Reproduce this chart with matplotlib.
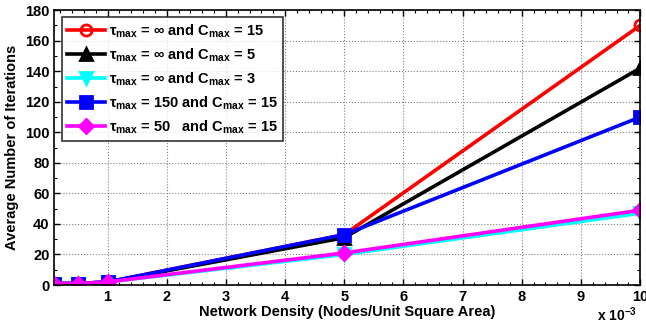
import matplotlib
matplotlib.use("Agg")
import matplotlib.pyplot as plt
from matplotlib.ticker import MultipleLocator, AutoMinorLocator

plt.rcParams['font.family'] = ['Liberation Sans', 'DejaVu Sans']
plt.rcParams['font.weight'] = 'bold'
plt.rcParams['mathtext.fontset'] = 'custom'
plt.rcParams['mathtext.rm'] = 'Liberation Sans:bold'
plt.rcParams['mathtext.it'] = 'Liberation Sans:bold'
plt.rcParams['mathtext.bf'] = 'Liberation Sans:bold'
plt.rcParams['mathtext.default'] = 'bf'

# network density in units of 1e-3
density = [0.1, 0.5, 1, 5, 10]

inf_c15 = [1, 1, 2, 33, 170]
inf_c5 = [1, 1, 2, 31, 142]
inf_c3 = [1, 1, 2, 20, 47]
t150_c15 = [1, 1, 2, 33, 110]
t50_c15 = [1, 1, 2, 21, 49]

series = [
    (inf_c15, 'red', 'o', r'$\tau_{max}$ = ∞ and C$_{max}$ = 15'),
    (inf_c5, 'black', '^', r'$\tau_{max}$ = ∞ and C$_{max}$ = 5'),
    (inf_c3, 'cyan', 'v', r'$\tau_{max}$ = ∞ and C$_{max}$ = 3'),
    (t150_c15, 'blue', 's', r'$\tau_{max}$ = 150 and C$_{max}$ = 15'),
    (t50_c15, 'magenta', 'D', r'$\tau_{max}$ = 50   and C$_{max}$ = 15'),
]

fig = plt.figure(figsize=(6.46, 3.28), dpi=100)
ax = fig.add_axes([0.084, 0.131, 0.907, 0.838])

for y, col, mk, lab in series:
    mfc = 'none' if mk == 'o' else col
    ax.plot(density, y, color=col, marker=mk, markersize=8 if mk != 'D' else 7,
            markerfacecolor=mfc, markeredgewidth=2, linewidth=2.6, label=lab)

ax.set_xlim(0.1, 10)
ax.set_ylim(0, 180)
ax.xaxis.set_major_locator(MultipleLocator(1))
ax.yaxis.set_major_locator(MultipleLocator(20))
ax.xaxis.set_minor_locator(AutoMinorLocator(5))
ax.yaxis.set_minor_locator(AutoMinorLocator(2))
ax.tick_params(which='both', direction='in', top=True, right=True, labelsize=10.5)
ax.tick_params(which='major', length=4, width=1)
ax.tick_params(which='minor', length=2, width=0.8)
ax.set_xticks([1, 2, 3, 4, 5, 6, 7, 8, 9, 10])
ax.grid(True, which='major', linestyle=':', color='gray', linewidth=0.8)
for s in ax.spines.values():
    s.set_linewidth(1.2)

ax.set_xlabel('Network Density (Nodes/Unit Square Area)', fontsize=10.5, fontweight='bold', labelpad=1)
ax.set_ylabel('Average Number of Iterations', fontsize=10.5, fontweight='bold', labelpad=4)
fig.text(0.955, 0.02, r'x 10$^{-3}$', fontsize=10, fontweight='bold', ha='center')

leg = ax.legend(loc='upper left', fontsize=10.5, frameon=True, fancybox=False,
                edgecolor='black', handlelength=2.6, borderaxespad=0.5,
                labelspacing=0.45, handletextpad=0.3, borderpad=0.35)
leg.get_frame().set_linewidth(1.2)

fig.savefig('out.png', dpi=100)
